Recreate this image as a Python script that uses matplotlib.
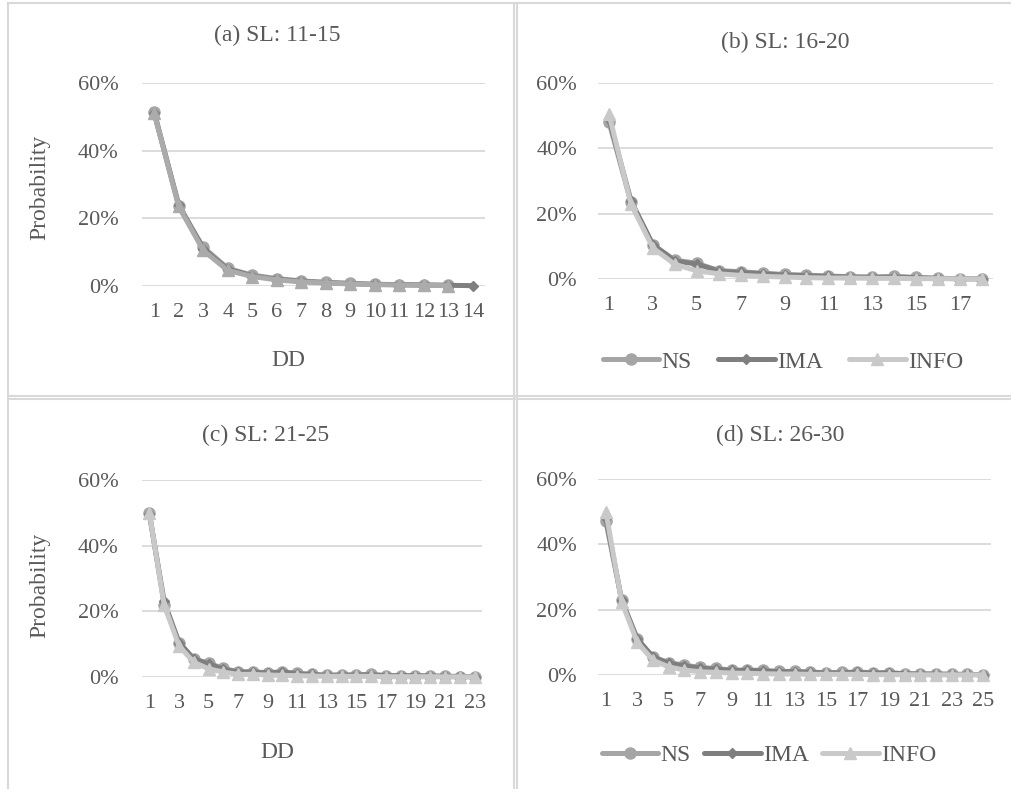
import matplotlib
matplotlib.use("Agg")
import matplotlib.pyplot as plt
from matplotlib.lines import Line2D
from matplotlib.ticker import FuncFormatter

plt.rcParams['font.family'] = ['Liberation Serif', 'DejaVu Serif']

W, H = 1011, 789

# probabilities in percent
a_ns = [51.5, 23.5, 11.5, 5.2, 3.2, 2.2, 1.5, 1.1, 0.8, 0.5, 0.4, 0.3, 0.2]
a_ima = [51, 24, 11, 5, 3, 2, 1.4, 1, 0.7, 0.5, 0.4, 0.3, 0.2, 0.1]
a_info = [51, 23.5, 10.5, 4.6, 2.8, 1.8, 1.2, 0.9, 0.6, 0.4, 0.3, 0.2, 0.1]

b_ns = [48, 23.5, 10.5, 5.8, 4.8, 2.6, 2.2, 1.8, 1.4, 1.2, 0.9, 0.7, 0.6, 0.8, 0.5, 0.2, 0.1, 0.05]
b_ima = [49, 24, 10.5, 5.5, 4.6, 2.4, 2.0, 1.6, 1.2, 1.0, 0.8, 0.6, 0.5, 0.6, 0.4, 0.2, 0.1, 0.05]
b_info = [50.5, 23, 9.5, 4.5, 2.5, 1.6, 1.1, 0.8, 0.6, 0.4, 0.3, 0.3, 0.2, 0.2, 0.1, 0.1, 0.05, 0.05]

c_ns = [50, 22, 10.5, 5.5, 4.2, 2.6, 1.6, 1.6, 1.3, 1.6, 1.1, 0.8, 0.5, 0.6, 0.6, 0.8, 0.4, 0.4, 0.4, 0.3, 0.2, 0.1, 0.1]
c_ima = [49.5, 23, 10.5, 5.5, 4.0, 2.4, 1.5, 1.5, 1.2, 1.5, 1.0, 0.8, 0.5, 0.6, 0.6, 0.7, 0.4, 0.4, 0.4, 0.3, 0.2, 0.2, 0.1]
c_info = [50, 22, 9.5, 4.5, 2.5, 1.5, 0.8, 0.8, 0.6, 0.5, 0.4, 0.3, 0.2, 0.2, 0.2, 0.2, 0.1, 0.1, 0.1, 0.1, 0.05, 0.05, 0.05]

d_ns = [47, 23, 11, 5.5, 3.8, 3.0, 2.3, 2.0, 1.5, 1.5, 1.4, 1.1, 1.1, 0.9, 0.7, 0.8, 0.9, 0.7, 0.7, 0.4, 0.3, 0.3, 0.2, 0.2, 0.1]
d_ima = [48, 23, 11, 5.5, 3.6, 2.8, 2.1, 1.8, 1.4, 1.4, 1.3, 1.0, 1.0, 0.8, 0.6, 0.7, 0.8, 0.6, 0.6, 0.4, 0.3, 0.3, 0.2, 0.2, 0.1]
d_info = [50, 22.5, 10, 4.5, 2.5, 1.5, 1.0, 0.8, 0.6, 0.5, 0.4, 0.3, 0.3, 0.2, 0.2, 0.2, 0.2, 0.1, 0.1, 0.1, 0.05, 0.05, 0.05, 0.05, 0.05]

titles = ["(a) SL: 11-15", "(b) SL: 16-20", "(c) SL: 21-25", "(d) SL: 26-30"]
n_cats = [14, 18, 23, 25]
series_names = ["NS", "IMA", "INFO"]

txt = "#595959"
grid = "#D9D9D9"
styles = {
    "NS": dict(color="#A5A5A5", marker="o", ms=8),
    "IMA": dict(color="#7F7F7F", marker="D", ms=5.5),
    "INFO": dict(color="#C9C9C9", marker="^", ms=8.5),
}

# pixel boxes: left, right, top(60%), bottom(0%)
boxes = [(142, 485, 83, 286), (598, 993, 83, 279), (142, 482, 480, 677), (598, 991, 479, 675)]
title_pos = [(277, 35), (785, 42), (266, 435), (780, 435)]
tick_step = [1, 2, 2, 2]
ypads = [17, 15, 17, 15]

fig = plt.figure(figsize=(W / 100, H / 100), dpi=100)

data = [(a_ns, a_ima, a_info), (b_ns, b_ima, b_info), (c_ns, c_ima, c_info), (d_ns, d_ima, d_info)]
axes = []
for i, (l, r, t, b) in enumerate(boxes):
    ax = fig.add_axes([l / W, 1 - b / H, (r - l) / W, (b - t) / H])
    axes.append(ax)
    for name, vals in zip(series_names, data[i]):
        st = styles[name]
        col = st["color"]
        if i == 0 and name == "INFO":
            col = "#ABABAB"
        ax.plot(range(1, len(vals) + 1), [v / 100 for v in vals], color=col, lw=3.6,
                marker=st["marker"], ms=st["ms"], mfc=col, mec=col, label=name,
                solid_capstyle="round", clip_on=False)
    n = n_cats[i]
    ax.set_xlim(0.5, n + 0.5)
    ax.set_ylim(0, 0.6)
    ax.set_yticks([0, 0.2, 0.4, 0.6])
    ax.yaxis.set_major_formatter(FuncFormatter(lambda v, p: f"{v * 100:.0f}%"))
    ax.set_xticks(range(1, n + 1, tick_step[i]))
    ax.grid(axis="y", color=grid, lw=1.3)
    ax.set_axisbelow(True)
    for s in ax.spines.values():
        s.set_visible(False)
    ax.tick_params(length=0, labelsize=16, labelcolor=txt)
    ax.tick_params(axis="x", pad=12)
    ax.tick_params(axis="y", pad=ypads[i])
    fig.text(title_pos[i][0] / W, 1 - title_pos[i][1] / H, titles[i], ha="center", va="center",
             fontsize=17, color=txt)

# axis labels on the left panels
for y_lab, y_dd, x_dd in [(187, 360, 288), (585, 753, 277)]:
    fig.text(40 / W, 1 - y_lab / H, "Probability", rotation=90, ha="center", va="center",
             fontsize=17, color=txt)
    fig.text(x_dd / W, 1 - y_dd / H, "DD", ha="center", va="center", fontsize=17, color=txt)

# legends on the right panels
for ax, xc, yc, cs in [(axes[1], 783, 362, 1.1), (axes[3], 769, 755, 0.55)]:
    ax.legend(loc="center", bbox_to_anchor=(xc / W, 1 - yc / H), bbox_transform=fig.transFigure,
              ncol=3, frameon=False, fontsize=17, labelcolor=txt, handlelength=2.4,
              handletextpad=0.1, columnspacing=cs)

# panel frame lines
frame = "#D9D9D9"
def fline(xs, ys):
    fig.add_artist(Line2D([x / W for x in xs], [1 - y / H for y in ys], color=frame, lw=1.5))

fline([7.5, 7.5], [3, H])
fline([7.5, W], [3, 3])
fline([514, 514], [3, H])
fline([517, 517], [3, H])
fline([7.5, W], [396, 396])
fline([7.5, W], [399, 399])

fig.savefig("out.png", dpi=100)
